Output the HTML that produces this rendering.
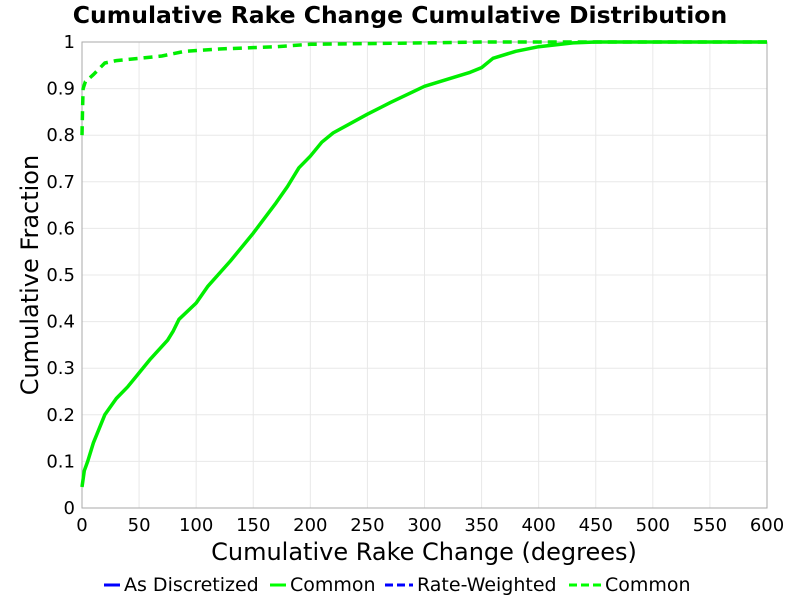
<!DOCTYPE html>
<html><head><meta charset="utf-8"><style>
body{margin:0;background:#fff;font-family:"Liberation Sans","DejaVu Sans",sans-serif}
svg text{font-family:"DejaVu Sans","Liberation Sans",sans-serif}
</style></head><body>
<svg id="chart" width="800" height="600">
<text x="400" y="23" text-anchor="middle" font-size="23.5" font-weight="bold">Cumulative Rake Change Cumulative Distribution</text>
<g id="grid"></g>
<rect x="82" y="42" width="685" height="466" fill="none" stroke="#aaa"/>
<g id="ticks"></g>
<g id="series"></g>
<text x="424" y="560" text-anchor="middle" font-size="24">Cumulative Rake Change (degrees)</text>
<text transform="translate(38,275) rotate(-90)" text-anchor="middle" font-size="24">Cumulative Fraction</text>
<g font-size="19">
<g><line x1="104" y1="585" x2="120" y2="585" stroke="#0000ff" stroke-width="3"/><text x="124" y="591">As Discretized</text></g>
<g><line x1="270" y1="585" x2="286" y2="585" stroke="#00ff00" stroke-width="3"/><text x="290" y="591">Common</text></g>
<g><line x1="385" y1="585" x2="413" y2="585" stroke="#0000ff" stroke-width="3" stroke-dasharray="8,4"/><text x="417" y="591">Rate-Weighted</text></g>
<g><line x1="569" y1="585" x2="601" y2="585" stroke="#00ff00" stroke-width="3" stroke-dasharray="8,4"/><text x="605" y="591">Common</text></g>
</g>
</svg>
<script>
const xTicks=[0,50,100,150,200,250,300,350,400,450,500,550,600];
const yTicks=[0,0.1,0.2,0.3,0.4,0.5,0.6,0.7,0.8,0.9,1];
const yTickLabels=["0","0.1","0.2","0.3","0.4","0.5","0.6","0.7","0.8","0.9","1"];
const solidX=[0,2,5,10,20,30,40,50,60,75,80,85,100,110,130,150,170,180,190,200,210,220,250,270,300,320,340,350,360,380,400,430,450,600];
const solidY=[0.045,0.08,0.1,0.14,0.2,0.235,0.26,0.29,0.32,0.36,0.38,0.405,0.44,0.475,0.53,0.59,0.655,0.69,0.73,0.755,0.785,0.805,0.845,0.87,0.905,0.92,0.935,0.945,0.965,0.98,0.99,0.998,1,1];
const dashX=[0,0.5,1,3,10,20,30,50,70,90,120,170,200,300,350,600];
const dashY=[0.8,0.86,0.9,0.915,0.93,0.955,0.96,0.965,0.97,0.98,0.985,0.99,0.995,0.998,1,1];
const X0=82,X1=767,Y0=508,Y1=42;
const sx=v=>X0+(v-0)/(600-0)*(X1-X0);
const sy=v=>Y0-(v-0)/(1-0)*(Y0-Y1);
const NS="http://www.w3.org/2000/svg";
const grid=document.getElementById('grid'),ticks=document.getElementById('ticks'),series=document.getElementById('series');
function mk(t,a,p){const e=document.createElementNS(NS,t);for(const k in a)e.setAttribute(k,a[k]);p.appendChild(e);return e;}
xTicks.forEach(v=>{
 const g=mk('line',{x1:sx(v),x2:sx(v),y1:Y1,y2:Y0,stroke:'#e8e8e8'},grid);
 
 
 const t=mk('text',{x:sx(v),y:Y0+23,'text-anchor':'middle','font-size':'18'},ticks);t.textContent=v;
 
 
});
yTicks.forEach((v,i)=>{
 const g=mk('line',{x1:X0,x2:X1,y1:sy(v),y2:sy(v),stroke:'#e8e8e8'},grid);
 
 
 const t=mk('text',{x:X0-7,y:sy(v)+6,'text-anchor':'end','font-size':'18'},ticks);t.textContent=yTickLabels[i];
 
 
});
const pts=(xs,ys)=>xs.map((x,i)=>sx(x).toFixed(1)+','+sy(ys[i]).toFixed(1)).join(' ');
const s=mk('polyline',{points:pts(solidX,solidY),fill:'none',stroke:'#00ee00','stroke-width':3.5,'stroke-linejoin':'round'},series);


const d=mk('polyline',{points:pts(dashX,dashY),fill:'none',stroke:'#00ee00','stroke-width':3.5,'stroke-dasharray':'9,6'},series);


</script>
</body></html>
